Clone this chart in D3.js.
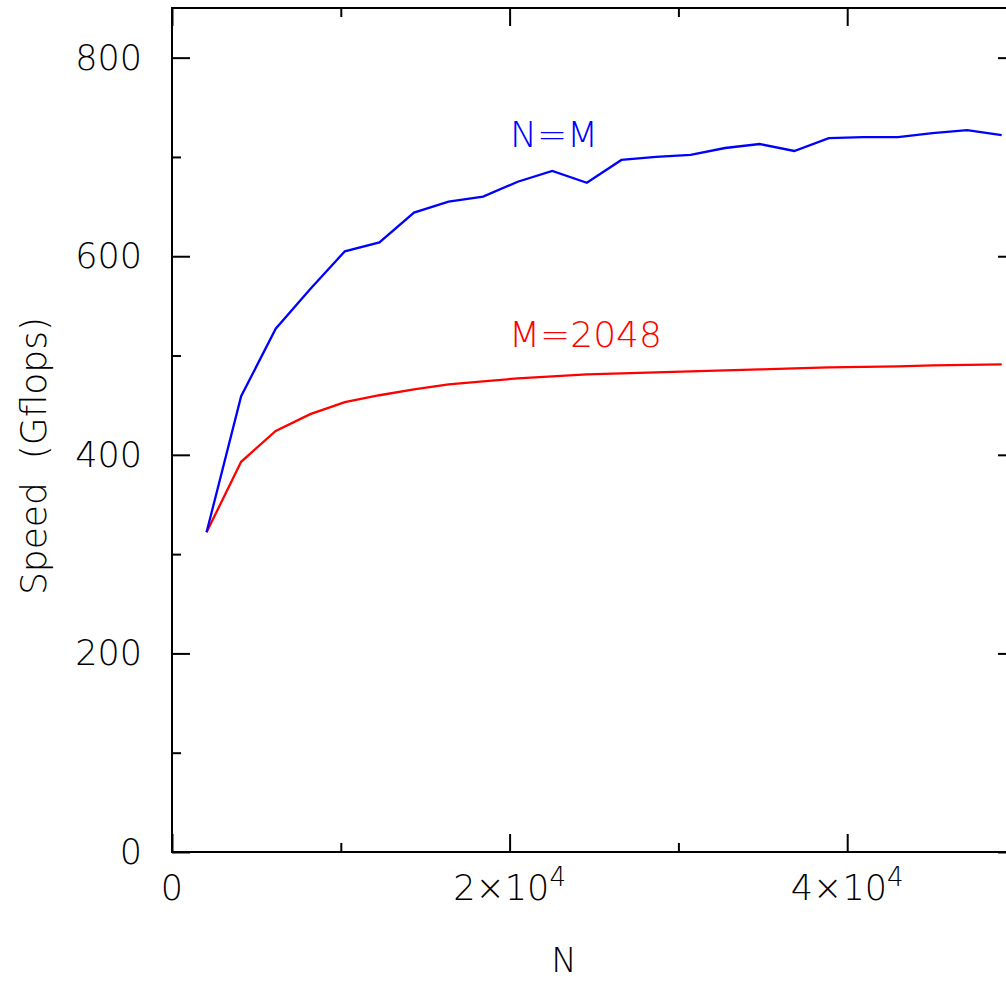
<!DOCTYPE html>
<html>
<head>
<meta charset="utf-8">
<script src="https://cdn.jsdelivr.net/npm/d3@7"></script>
<style>
  body { margin: 0; background: #fff; }
  svg text { font-family: "DejaVu Sans", sans-serif; font-weight: 200; }
</style>
</head>
<body>
<script>
// data: N = 2048*k
var sizes = [2048, 4096, 6144, 8192, 10240, 12288, 14336, 16384, 18432, 20480, 22528, 24576,
             26624, 28672, 30720, 32768, 34816, 36864, 38912, 40960, 43008, 45056, 47104, 49152];
var speedNM = [322, 459, 527, 567, 605, 614, 644, 655, 660, 675, 686, 674,
               697, 700, 702, 709, 713, 706, 719, 720, 720, 724, 727, 722];
var speedM2048 = [322, 393, 424, 441, 453, 460, 466, 471, 474, 477, 479, 481,
                  482, 483, 484, 485, 486, 487, 488, 488.5, 489, 490, 490.5, 491];
var yMajor = [0, 200, 400, 600, 800];
var yMinor = [100, 300, 500, 700];
var xMajor = [0, 20000, 40000];
var xMinor = [10000, 30000];
var xTickLabels = [["0", ""], ["2×10", "4"], ["4×10", "4"]];

var width = 1006, height = 981;
var padLeft = 172, padRight = 1016, padTop = 8, padBottom = 852;

var xscale = d3.scaleLinear().domain([0, 50000]).range([padLeft, padRight]);
var yscale = d3.scaleLinear().domain([0, 850]).range([padBottom, padTop]);

var svg = d3.select("body").append("svg")
    .attr("width", width)
    .attr("height", height);

// frame
svg.append("rect")
    .attr("x", padLeft).attr("y", padTop)
    .attr("width", padRight - padLeft).attr("height", padBottom - padTop)
    .attr("fill", "none").attr("stroke", "#000").attr("stroke-width", 2);

function tickAxis(axis, transform, values, size) {
  svg.append("g")
    .attr("transform", transform)
    .call(axis.tickValues(values).tickSizeInner(size).tickSizeOuter(0).tickFormat(""))
    .call(function(g) {
      g.select(".domain").remove();
      g.selectAll("line").attr("stroke-width", 2);
    });
}

// inward ticks on all four sides
tickAxis(d3.axisLeft(yscale), "translate(" + padLeft + ",0)", yMajor, -18);
tickAxis(d3.axisLeft(yscale), "translate(" + padLeft + ",0)", yMinor, -9);
tickAxis(d3.axisRight(yscale), "translate(" + padRight + ",0)", yMajor, -18);
tickAxis(d3.axisRight(yscale), "translate(" + padRight + ",0)", yMinor, -9);
tickAxis(d3.axisBottom(xscale), "translate(0," + padBottom + ")", xMajor, -18);
tickAxis(d3.axisBottom(xscale), "translate(0," + padBottom + ")", xMinor, -9);
tickAxis(d3.axisTop(xscale), "translate(0," + padTop + ")", xMajor, -18);
tickAxis(d3.axisTop(xscale), "translate(0," + padTop + ")", xMinor, -9);

// y tick labels
svg.selectAll(".ylab")
  .data(yMajor).enter()
  .append("text")
  .attr("class", "ylab")
  .attr("x", padLeft - 30)
  .attr("y", function(d) { return yscale(d) + 12; })
  .attr("text-anchor", "end")
  .attr("font-size", 35)
  .text(function(d) { return d; });

// x tick labels
var xl = svg.selectAll(".xlab")
  .data(xMajor).enter()
  .append("text")
  .attr("class", "xlab")
  .attr("x", function(d) { return xscale(d); })
  .attr("y", 900)
  .attr("text-anchor", "middle")
  .attr("font-size", 35);
xl.append("tspan").text(function(d, i) { return xTickLabels[i][0]; });
xl.append("tspan")
  .attr("dy", -14)
  .attr("font-size", 26)
  .text(function(d, i) { return xTickLabels[i][1]; });

// axis titles
svg.append("text")
  .attr("x", 564).attr("y", 972)
  .attr("text-anchor", "middle")
  .attr("font-size", 34)
  .text("N");

svg.append("text")
  .attr("transform", "translate(46,456) rotate(-90)")
  .attr("text-anchor", "middle")
  .attr("font-size", 36)
  .text("Speed\u00a0\u00a0(Gflops)");

// lines
var line = d3.line()
  .x(function(d, i) { return xscale(sizes[i]); })
  .y(function(d) { return yscale(d); });

svg.append("path")
  .datum(speedM2048)
  .attr("d", line)
  .attr("fill", "none").attr("stroke", "#ff0000").attr("stroke-width", 2.3);

svg.append("path")
  .datum(speedNM)
  .attr("d", line)
  .attr("fill", "none").attr("stroke", "#0000ff").attr("stroke-width", 2.3);

// curve labels
svg.append("text")
  .attr("x", 510).attr("y", 147)
  .attr("font-size", 36)
  .attr("fill", "#0000ff")
  .text("N=M");

svg.append("text")
  .attr("x", 509).attr("y", 347)
  .attr("font-size", 36)
  .attr("fill", "#ff0000")
  .text("M=2048");
</script>
</body>
</html>
